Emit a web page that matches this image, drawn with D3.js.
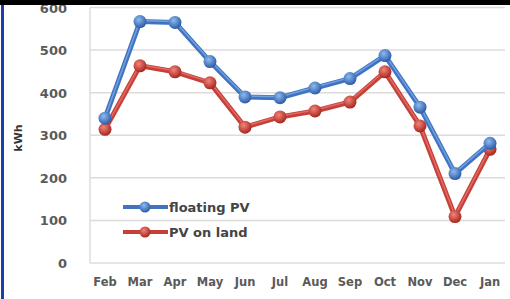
<!DOCTYPE html>
<html lang="en">
<head>
    <meta charset="utf-8">
    <title>Floating PV vs PV on land</title>
    <script src="https://cdn.jsdelivr.net/npm/d3@7"></script>
    <style>
        body { margin: 0; background: #fff; }
        svg { display: block; }
        text { font-family: "DejaVu Sans", Verdana, sans-serif; font-weight: bold; fill: #5a5a5a; }
    </style>
</head>
<body>
    <svg id="chart" width="510" height="299"></svg>

    <script>
        const months = ["Feb", "Mar", "Apr", "May", "Jun", "Jul", "Aug", "Sep", "Oct", "Nov", "Dec", "Jan"];
        const floatingPV = [340, 567, 565, 473, 390, 388, 411, 433, 487, 366, 210, 281];
        const landPV = [314, 463, 449, 423, 319, 343, 357, 378, 449, 322, 109, 267];
        const yTicks = [0, 100, 200, 300, 400, 500, 600];
        const seriesNames = ["floating PV", "PV on land"];

        const svg = d3.select("#chart");

        const x = d3.scalePoint().domain(months).range([105, 490]);
        const y = d3.scaleLinear().domain([0, 600]).range([263, 7.5]);

        // gradients for the glossy markers
        const defs = svg.append("defs");
        const grads = [
            { id: "gBlue", light: "#8dbaf0", dark: "#2c5ca6" },
            { id: "gRed", light: "#f5837a", dark: "#a5271f" }
        ];
        grads.forEach(g => {
            const rg = defs.append("radialGradient").attr("id", g.id)
                .attr("cx", "40%").attr("cy", "35%").attr("r", "65%");
            rg.append("stop").attr("offset", "0%").attr("stop-color", g.light);
            rg.append("stop").attr("offset", "100%").attr("stop-color", g.dark);
        });

        // gridlines
        svg.append("g")
            .selectAll("line")
            .data(yTicks)
            .join("line")
            .attr("x1", 90).attr("x2", 505)
            .attr("y1", d => y(d)).attr("y2", d => y(d))
            .attr("stroke", "#dcdcdc")
            .attr("stroke-width", 1.5);

        svg.append("line")
            .attr("x1", 90).attr("x2", 90)
            .attr("y1", y(600)).attr("y2", y(0))
            .attr("stroke", "#dcdcdc").attr("stroke-width", 1.5);

        // y tick labels
        svg.append("g")
            .selectAll("text")
            .data(yTicks)
            .join("text")
            .attr("x", 67)
            .attr("y", d => y(d) + 5)
            .attr("text-anchor", "end")
            .attr("font-size", 13)
            .text(d => d);

        // x labels
        svg.append("g")
            .selectAll("text")
            .data(months)
            .join("text")
            .attr("x", d => x(d))
            .attr("y", 286)
            .attr("text-anchor", "middle")
            .attr("font-size", 11.5)
            .text(d => d);

        svg.append("text")
            .attr("transform", "translate(22,138) rotate(-90)")
            .attr("text-anchor", "middle")
            .attr("font-size", 11)
            .style("fill", "#333")
            .text("kWh");

        const line = d3.line().x((d, i) => x(months[i])).y(d => y(d));

        const series = [
            { values: floatingPV, color: "#4074c2", hi: "#72a0de", grad: "gBlue" },
            { values: landPV, color: "#c6403a", hi: "#e26a61", grad: "gRed" }
        ];

        // land first so the blue line sits on top
        [series[1], series[0]].forEach(s => {
            svg.append("path")
                .datum(s.values)
                .attr("d", line)
                .attr("fill", "none")
                .attr("stroke", s.color)
                .attr("stroke-width", 5)
                .attr("stroke-linejoin", "round");
            svg.append("path")
                .datum(s.values)
                .attr("d", line)
                .attr("transform", "translate(0,-1)")
                .attr("fill", "none")
                .attr("stroke", s.hi)
                .attr("stroke-width", 1.5)
                .attr("stroke-linejoin", "round");
            svg.append("g")
                .selectAll("circle")
                .data(s.values)
                .join("circle")
                .attr("cx", (d, i) => x(months[i]))
                .attr("cy", d => y(d))
                .attr("r", 6.5)
                .attr("fill", `url(#${s.grad})`);
        });

        // legend
        const legend = svg.append("g")
            .selectAll("g")
            .data(series)
            .join("g")
            .attr("transform", (d, i) => `translate(123,${207 + i * 25})`);
        legend.append("line")
            .attr("x1", 0).attr("x2", 45)
            .attr("stroke", d => d.color)
            .attr("stroke-width", 4);
        legend.append("circle")
            .attr("cx", 22).attr("r", 5.5)
            .attr("fill", d => `url(#${d.grad})`);
        legend.append("text")
            .attr("x", 46).attr("y", 5)
            .attr("font-size", 13)
            .style("fill", "#444")
            .text((d, i) => seriesNames[i]);

        // frame pieces of the screenshot
        svg.append("rect").attr("x", 0).attr("y", 0).attr("width", 510).attr("height", 5).attr("fill", "#000");
        svg.append("rect").attr("x", 1).attr("y", 5).attr("width", 3).attr("height", 294).attr("fill", "#1b3fa6");
    </script>
</body>
</html>
